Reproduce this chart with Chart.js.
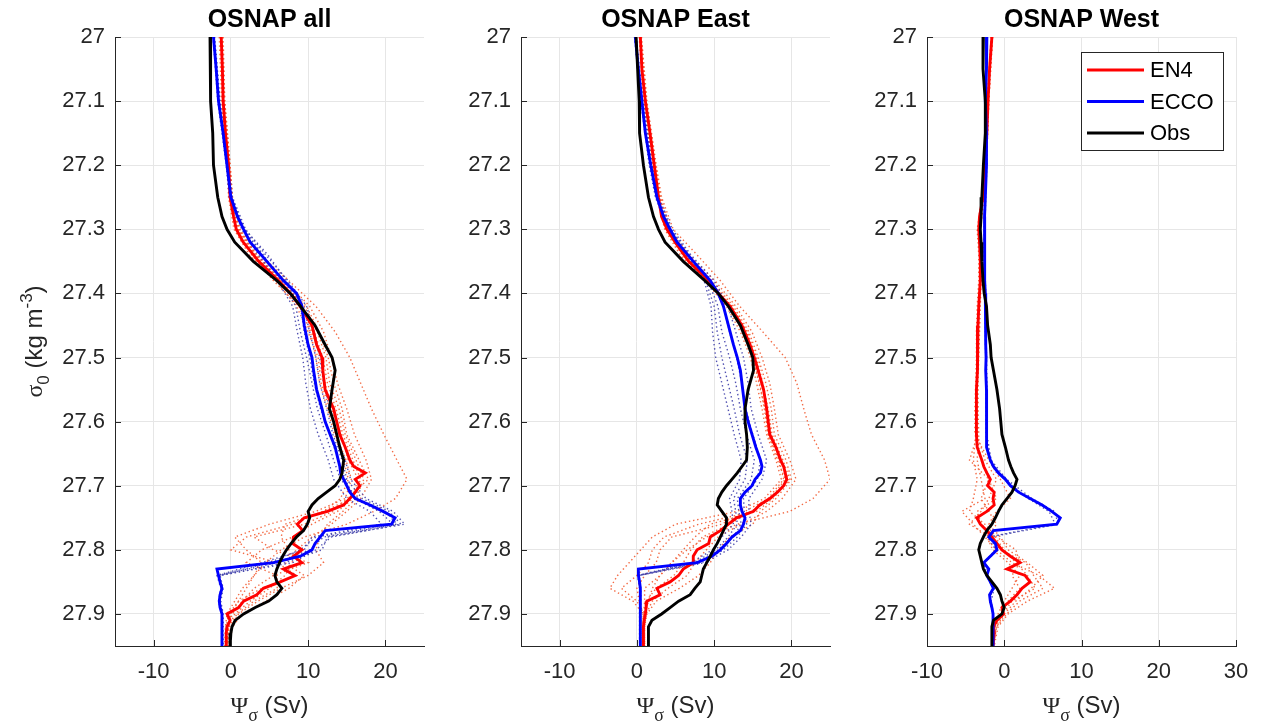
<!DOCTYPE html>
<html>
<head>
<meta charset="utf-8">
<title>OSNAP overturning in density space</title>
<script src="https://cdn.jsdelivr.net/npm/chart.js@4.4.1/dist/chart.umd.min.js"></script>
<style>
  body { margin: 0; background: #fff; }
  #fig { position: relative; width: 1264px; height: 726px; overflow: hidden; }
  #fig canvas { position: absolute; top: 0; }
</style>
</head>
<body>
<div id="fig">
  <canvas id="panelAll" width="440" height="726" style="left:0px"></canvas>
  <canvas id="panelEast" width="440" height="726" style="left:406px"></canvas>
  <canvas id="panelWest" width="452" height="726" style="left:812px"></canvas>
</div>
<script>
// density levels (sigma_0, kg m-3) for the mean profiles
const sigmaLevels = [27.00, 27.05, 27.10, 27.15, 27.20, 27.25, 27.28, 27.30, 27.32, 27.35,
  27.38, 27.40, 27.42, 27.45, 27.48, 27.50, 27.52, 27.55, 27.58, 27.60,
  27.62, 27.64, 27.66, 27.67, 27.68, 27.69, 27.70, 27.71, 27.72, 27.73,
  27.74, 27.75, 27.76, 27.77, 27.78, 27.79, 27.80, 27.81, 27.82, 27.83,
  27.84, 27.85, 27.86, 27.87, 27.88, 27.89, 27.90, 27.91, 27.92, 27.93,
  27.94, 27.95];

// coarser levels for the ensemble members (dotted)
const memberSigma = [27.00, 27.10, 27.20, 27.25, 27.30, 27.34, 27.38, 27.42, 27.46, 27.50,
  27.54, 27.58, 27.62, 27.66, 27.69, 27.72, 27.74, 27.76, 27.78, 27.80,
  27.82, 27.84, 27.86, 27.88, 27.90, 27.92, 27.95];

// OSNAP all (Sv)
const allObs = [-2.7, -2.65, -2.6, -2.35, -2.25, -1.7, -1.15, -0.5, 0.5, 2.9,
  5.95, 7.7, 9.0, 10.9, 12.2, 13.1, 13.5, 13.1, 12.75, 13.3,
  13.7, 14.1, 14.6, 14.5, 14.4, 14.1, 13.5, 12.4, 11.3, 10.5,
  10.0, 10.2, 9.9, 9.4, 8.5, 7.8, 7.2, 6.7, 6.3, 5.95,
  5.7, 5.95, 6.6, 5.95, 4.9, 3.15, 1.65, 0.55, 0.15, 0.0,
  -0.1, -0.1];
const allEcco = [-2.25, -1.9, -1.6, -1.0, -0.5, 0.0, 0.85, 1.65, 2.5, 4.65,
  6.8, 8.5, 9.2, 9.5, 10.0, 10.5, 10.7, 11.1, 11.8, 12.2,
  12.85, 13.5, 13.9, 14.1, 14.2, 14.6, 15.0, 15.4, 16.1, 18.0,
  19.7, 21.25, 20.8, 12.2, 11.55, 10.9, 10.5, 9.0, 5.5, -1.8,
  -1.6, -1.4, -1.15, -1.4, -1.5, -1.4, -1.15, -1.15, -1.15, -1.15,
  -1.15, -1.15];
const allEn4 = [-1.25, -1.1, -1.0, -0.7, -0.3, -0.1, 0.35, 0.7, 1.6, 3.6,
  6.15, 7.7, 9.0, 10.5, 11.1, 11.8, 11.9, 12.2, 13.3, 13.7,
  14.1, 14.8, 15.4, 15.9, 17.4, 16.1, 16.7, 16.1, 15.4, 14.6,
  12.5, 9.5, 8.6, 9.3, 8.1, 8.0, 9.2, 8.1, 9.2, 6.8,
  8.3, 6.4, 4.2, 3.35, 1.65, 1.0, -0.5, -0.1, -0.5, -0.6,
  -0.6, -0.6];
const allEn4Members = [
  [-1.0, -0.8, -0.1, 0.2, 1.2, 3.8, 7.5, 11.0, 13.5, 15.4, 16.8, 18.2, 19.8, 21.5, 22.8, 21.3, 18.5, 15.0, 9.5, 6.5, 4.5, 3.0, 2.0, 1.0, 0.0, -0.3, -0.4],
  [-1.5, -1.2, -0.5, -0.3, 0.4, 2.4, 5.8, 8.5, 10.0, 11.3, 11.7, 12.8, 13.6, 14.9, 15.6, 14.8, 11.0, 5.0, 0.5, 2.0, 4.0, 3.0, 1.5, 0.5, -0.5, -0.7, -0.8],
  [-1.1, -0.8, -0.1, 0.2, 1.1, 3.3, 6.6, 9.5, 11.2, 12.3, 12.8, 14.0, 14.8, 16.2, 17.2, 16.2, 14.5, 12.5, 11.5, 11.0, 12.0, 10.0, 6.5, 3.5, 1.0, 0.0, -0.3],
  [-1.3, -1.0, -0.3, 0.0, 0.8, 3.0, 6.3, 9.2, 10.5, 11.6, 12.2, 13.0, 14.3, 15.2, 16.5, 15.6, 12.0, 7.0, 6.5, 7.5, 8.0, 7.0, 5.0, 2.5, 0.5, -0.3, -0.5],
  [-1.2, -0.9, -0.2, 0.1, 1.0, 3.1, 6.0, 9.8, 11.4, 12.6, 13.3, 14.4, 15.0, 16.6, 17.8, 15.0, 13.2, 9.5, 3.0, 5.5, 10.0, 5.5, 3.0, 1.5, 0.2, -0.4, -0.5],
  [-1.35, -1.1, -0.4, -0.2, 0.6, 2.7, 5.5, 8.8, 10.3, 11.0, 11.5, 12.5, 13.4, 14.6, 15.2, 14.2, 12.0, 8.0, 2.0, 0.0, 6.0, 8.5, 4.0, 1.0, -0.3, -0.6, -0.7],
  [-1.15, -0.85, -0.15, 0.15, 1.0, 3.4, 7.0, 10.2, 12.0, 13.0, 13.8, 15.0, 16.0, 17.5, 18.2, 16.8, 15.0, 13.0, 10.5, 8.5, 7.0, 9.5, 7.5, 4.5, 1.5, 0.2, -0.2],
  [-1.25, -1.05, -0.25, 0.05, 0.9, 3.2, 6.5, 9.0, 10.8, 11.9, 12.5, 13.6, 14.5, 15.8, 16.8, 15.8, 13.8, 10.5, 8.0, 4.0, 2.0, 6.0, 6.0, 3.0, 0.8, -0.2, -0.4]
];
const allEccoMembers = [
  [-2.3, -1.7, -0.6, -0.2, 1.4, 3.6, 6.0, 8.0, 8.6, 9.3, 9.7, 10.3, 11.3, 12.6, 13.3, 15.0, 18.0, 19.5, 10.5, 9.5, 4.0, -1.8, -1.3, -1.6, -1.2, -1.2, -1.2],
  [-2.1, -1.4, -0.3, 0.2, 1.9, 4.5, 7.4, 9.8, 10.8, 11.5, 12.0, 12.8, 13.6, 14.8, 15.5, 17.5, 21.0, 22.5, 12.5, 11.8, 7.0, -1.4, -1.0, -1.3, -1.0, -1.0, -1.0],
  [-2.2, -1.6, -0.4, 0.0, 1.7, 4.2, 6.5, 8.4, 9.0, 9.8, 10.5, 11.2, 12.3, 13.3, 14.2, 16.5, 20.0, 21.5, 12.0, 10.2, 6.0, -1.6, -1.2, -1.4, -1.1, -1.1, -1.1],
  [-2.25, -1.5, -0.5, 0.1, 1.6, 4.0, 7.0, 9.0, 9.5, 10.2, 10.8, 11.6, 12.8, 13.9, 14.8, 16.0, 19.2, 21.0, 11.0, 9.0, 5.0, -1.7, -1.1, -1.5, -1.2, -1.2, -1.2],
  [-2.15, -1.45, -0.45, 0.05, 1.8, 4.8, 7.2, 9.4, 10.2, 11.0, 11.5, 12.4, 13.2, 14.4, 15.0, 17.0, 20.5, 22.0, 13.0, 11.0, 8.0, -1.5, -1.2, -1.4, -1.1, -1.1, -1.1]
];

// OSNAP East (Sv)
const eastObs = [-0.1, 0.1, 0.3, 0.35, 0.85, 1.5, 2.15, 2.8, 3.65, 6.0,
  8.8, 10.55, 11.85, 13.4, 14.4, 15.0, 15.1, 14.4, 14.0, 14.0,
  14.2, 14.3, 14.2, 13.6, 13.0, 12.3, 11.6, 11.0, 10.55, 10.4,
  11.0, 11.6, 11.6, 11.2, 10.8, 10.4, 9.9, 9.5, 9.05, 8.6,
  8.4, 8.2, 7.5, 6.9, 5.4, 4.3, 3.2, 1.95, 1.5, 1.5,
  1.5, 1.5];
const eastEcco = [-0.2, 0.2, 0.65, 1.1, 1.8, 2.6, 3.45, 4.3, 5.2, 7.3,
  9.5, 10.55, 11.2, 11.85, 12.5, 13.0, 13.4, 13.7, 14.0, 14.4,
  14.9, 15.4, 16.0, 16.2, 16.0, 15.3, 14.9, 14.0, 13.4, 13.4,
  13.6, 14.0, 13.8, 13.4, 12.3, 11.6, 10.8, 9.7, 7.8, 0.2,
  0.2, 0.35, 0.45, 0.45, 0.45, 0.45, 0.45, 0.45, 0.45, 0.45,
  0.45, 0.45];
const eastEn4 = [0.45, 0.65, 1.1, 1.7, 2.25, 2.8, 3.2, 3.9, 4.95, 6.7,
  9.3, 10.55, 12.05, 13.6, 14.65, 15.2, 15.7, 16.4, 16.8, 17.0,
  17.2, 18.0, 18.6, 19.0, 19.2, 19.4, 19.0, 18.2, 17.2, 15.9,
  15.1, 12.9, 11.85, 10.8, 9.5, 9.3, 7.8, 7.3, 7.3, 6.0,
  5.4, 4.3, 2.6, 3.0, 1.3, 1.2, 1.1, 0.95, 0.85, 0.85,
  0.85, 0.85];
const eastEn4Members = [
  [0.6, 1.3, 2.5, 3.2, 4.7, 7.8, 10.8, 13.3, 16.3, 19.2, 20.7, 21.6, 22.6, 24.3, 25.0, 22.8, 19.8, 13.0, 9.0, 6.5, 4.5, 3.0, 2.0, 1.5, 1.0, 0.9, 0.9],
  [0.3, 0.9, 2.0, 2.6, 3.6, 5.6, 8.8, 11.6, 13.4, 14.7, 15.5, 16.2, 16.8, 18.0, 18.7, 16.5, 13.0, 5.0, 2.0, 0.5, -1.0, -2.5, -3.5, -0.5, 0.8, 0.7, 0.7],
  [0.5, 1.2, 2.4, 3.0, 4.1, 6.4, 9.7, 12.5, 14.5, 15.7, 16.7, 17.4, 17.8, 19.3, 20.0, 18.0, 16.0, 15.0, 12.0, 10.5, 9.5, 8.0, 5.5, 2.5, 1.3, 1.0, 1.0],
  [0.4, 1.0, 2.2, 2.7, 3.8, 6.1, 9.1, 12.2, 14.2, 15.5, 16.3, 17.0, 17.5, 18.9, 19.8, 17.6, 15.5, 9.5, 7.5, 6.0, 4.5, 3.0, 1.0, 1.0, 0.9, 0.85, 0.85],
  [0.45, 1.1, 2.3, 2.9, 4.0, 6.3, 9.5, 12.0, 13.8, 15.0, 15.8, 16.6, 17.0, 18.4, 19.0, 17.0, 14.0, 11.0, 4.5, 3.0, 2.5, 1.0, 0.0, 0.3, 0.8, 0.8, 0.8],
  [0.35, 0.95, 2.1, 2.65, 3.7, 5.9, 9.0, 11.9, 13.7, 15.0, 15.9, 16.5, 17.0, 18.2, 19.2, 17.3, 15.0, 8.0, 3.5, 2.0, 1.5, 0.0, -2.0, 0.0, 0.9, 0.8, 0.8],
  [0.55, 1.25, 2.45, 3.1, 4.3, 6.8, 10.1, 12.8, 14.9, 16.2, 17.2, 17.8, 18.3, 19.8, 20.6, 18.8, 16.8, 13.5, 10.5, 9.0, 7.5, 6.5, 4.0, 2.0, 1.2, 1.0, 1.0],
  [0.4, 1.05, 2.25, 2.85, 3.9, 6.2, 9.3, 12.3, 14.3, 15.4, 16.2, 16.9, 17.4, 18.7, 19.6, 17.4, 14.8, 12.0, 8.5, 7.0, 6.0, 4.8, 2.5, 1.2, 0.9, 0.85, 0.85]
];
const eastEccoMembers = [
  [-0.3, 0.5, 1.6, 2.4, 4.0, 6.2, 8.7, 9.6, 9.8, 10.2, 11.0, 11.8, 12.6, 13.5, 13.3, 12.0, 12.3, 12.5, 11.0, 9.8, 7.0, 0.1, 0.35, 0.35, 0.35, 0.35, 0.35],
  [-0.1, 0.8, 2.0, 2.8, 4.6, 7.0, 10.0, 11.8, 12.8, 13.8, 14.4, 14.8, 15.7, 16.8, 16.2, 14.5, 14.5, 14.8, 13.5, 11.8, 8.8, 0.3, 0.5, 0.5, 0.5, 0.5, 0.5],
  [-0.2, 0.6, 1.8, 2.6, 4.2, 6.6, 9.2, 10.5, 11.0, 12.0, 12.8, 13.4, 14.2, 15.2, 14.8, 13.0, 13.2, 13.5, 12.5, 10.5, 8.0, 0.2, 0.4, 0.4, 0.4, 0.4, 0.4],
  [-0.25, 0.55, 1.7, 2.5, 4.1, 6.4, 8.9, 10.0, 10.4, 11.0, 11.8, 12.6, 13.3, 14.3, 14.0, 12.5, 12.8, 13.0, 11.8, 10.2, 7.5, 0.15, 0.4, 0.4, 0.4, 0.4, 0.4],
  [-0.15, 0.7, 1.9, 2.7, 4.4, 6.8, 9.6, 11.2, 12.0, 12.9, 13.6, 14.1, 15.0, 16.0, 15.6, 13.8, 13.9, 14.2, 13.0, 11.2, 8.4, 0.25, 0.45, 0.45, 0.45, 0.45, 0.45]
];

// OSNAP West (Sv)
const westObs = [-2.7, -2.75, -2.45, -2.45, -2.7, -2.9, -3.0, -3.1, -3.0, -2.9,
  -2.75, -2.6, -2.3, -2.15, -1.8, -1.7, -1.4, -0.95, -0.6, -0.45,
  -0.3, 0.15, 0.55, 0.85, 1.2, 1.65, 1.4, 1.0, 0.35, -0.3,
  -0.75, -1.15, -1.6, -2.25, -2.7, -3.1, -3.3, -3.1, -2.9, -2.7,
  -2.25, -1.6, -0.95, -0.5, -0.3, 0.0, -0.3, -1.4, -1.6, -1.6,
  -1.6, -1.6];
const westEcco = [-2.25, -2.3, -2.45, -2.3, -2.3, -2.45, -2.55, -2.55, -2.55, -2.55,
  -2.5, -2.45, -2.4, -2.4, -2.4, -2.35, -2.4, -2.3, -2.3, -2.3,
  -2.3, -2.25, -1.8, -1.4, -0.75, 0.15, 0.8, 1.85, 3.35, 4.9,
  6.15, 7.25, 6.8, -1.4, -2.0, -1.15, -0.95, -1.8, -2.65, -2.0,
  -2.25, -1.8, -1.4, -1.9, -1.8, -1.6, -1.45, -1.45, -1.45, -1.45,
  -1.45, -1.45];
const westEn4 = [-1.6, -1.9, -2.1, -2.25, -2.45, -2.75, -3.2, -3.3, -3.2, -3.1,
  -3.1, -3.2, -3.3, -3.4, -3.45, -3.45, -3.5, -3.6, -3.6, -3.6,
  -3.6, -3.5, -2.9, -2.65, -2.25, -1.8, -2.15, -1.3, -1.45, -1.3,
  -2.25, -3.55, -3.1, -2.25, -1.6, -0.95, -0.3, 0.8, 2.05, 0.35,
  2.7, 3.35, 2.3, 1.65, 0.8, -0.3, -0.1, -0.95, -1.4, -1.3,
  -1.4, -1.45];
const westEn4Members = [
  [-1.5, -2.0, -2.3, -2.6, -3.1, -3.0, -3.0, -3.1, -3.2, -3.3, -3.4, -3.4, -3.3, -3.5, -3.0, -2.5, -5.5, -4.0, -2.5, -1.0, 1.0, 4.5, 6.5, 3.0, 0.5, -0.8, -1.3],
  [-1.7, -2.2, -2.6, -2.9, -3.5, -3.3, -3.3, -3.5, -3.6, -3.6, -3.7, -3.8, -3.8, -2.0, -0.5, 0.8, -1.0, -2.0, -0.5, 0.5, 3.0, 5.0, 3.5, 1.5, 0.0, -1.0, -1.4],
  [-1.55, -2.05, -2.5, -2.8, -3.2, -3.2, -3.2, -3.4, -3.5, -3.5, -3.6, -3.7, -3.7, -4.0, -3.5, -4.0, -4.5, -2.5, -1.0, 1.5, 2.0, 1.0, 2.0, 0.5, -0.5, -1.2, -1.45],
  [-1.65, -2.15, -2.4, -2.7, -3.4, -3.1, -3.1, -3.2, -3.3, -3.4, -3.5, -3.5, -3.5, -2.5, -1.0, -2.0, -3.0, -4.5, -1.8, -0.5, 2.8, 3.8, 5.0, 2.0, 0.3, -1.0, -1.4],
  [-1.6, -2.1, -2.45, -2.75, -3.3, -3.2, -3.15, -3.3, -3.4, -3.45, -3.5, -3.6, -3.6, -3.0, -2.0, -1.0, -3.5, -3.0, -1.2, 0.0, 1.5, 3.0, 4.0, 1.0, -0.2, -1.1, -1.45],
  [-1.55, -2.0, -2.35, -2.65, -3.2, -3.05, -3.05, -3.2, -3.3, -3.35, -3.45, -3.45, -3.45, -4.5, -2.0, -3.0, -2.0, -1.0, -2.2, -1.5, 0.5, 2.0, 1.0, 0.0, -0.8, -1.2, -1.4]
];
const westEccoMembers = [
  [-2.3, -2.5, -2.35, -2.5, -2.6, -2.6, -2.55, -2.45, -2.45, -2.4, -2.35, -2.35, -2.35, -1.9, 0.0, 3.1, 5.8, 6.6, -2.1, -1.1, -2.7, -2.3, -1.5, -1.9, -1.5, -1.5, -1.5],
  [-2.2, -2.4, -2.25, -2.4, -2.5, -2.5, -2.45, -2.35, -2.35, -2.3, -2.25, -2.25, -2.25, -1.7, 0.3, 3.6, 6.5, 7.0, -1.9, -0.8, -2.6, -2.2, -1.3, -1.7, -1.4, -1.4, -1.4]
];

// axes
const yTicks = [27.0, 27.1, 27.2, 27.3, 27.4, 27.5, 27.6, 27.7, 27.8, 27.9];
const yTickLabels = ['27', '27.1', '27.2', '27.3', '27.4', '27.5', '27.6', '27.7', '27.8', '27.9'];
const xTicksEastAll = [-10, 0, 10, 20];
const xTicksWest = [-10, 0, 10, 20, 30];
const seriesNames = ['EN4', 'ECCO', 'Obs'];
const seriesColors = ['#ff0000', '#0000ff', '#000000'];

const SANS = "'Liberation Sans', Arial, Helvetica, sans-serif";
const SERIF = "'Liberation Serif', 'Times New Roman', serif";

function toPoints(levels, values) {
  return values.map((v, i) => ({ x: v, y: levels[i] }));
}

// draw a row of text pieces (sub/superscripts) centred on x
function drawRuns(ctx, runs, cx, baseY) {
  let total = 0;
  runs.forEach(r => { ctx.font = r.font; r.w = ctx.measureText(r.text).width; total += r.w; });
  let x = cx - total / 2;
  ctx.textAlign = 'left';
  ctx.textBaseline = 'alphabetic';
  runs.forEach(r => {
    ctx.font = r.font;
    ctx.fillText(r.text, x, baseY + (r.dy || 0));
    x += r.w;
  });
}

const decorations = {
  id: 'decorations',
  afterDraw(chart, args, opts) {
    const { ctx, chartArea: a } = chart;
    const xs = chart.scales.x, ys = chart.scales.y;
    ctx.save();

    // inward tick marks, matlab style
    ctx.strokeStyle = '#262626';
    ctx.lineWidth = 1;
    ctx.beginPath();
    xs.ticks.forEach(t => {
      const px = Math.round(xs.getPixelForValue(t.value)) + 0.5;
      ctx.moveTo(px, a.bottom);
      ctx.lineTo(px, a.bottom - 6);
    });
    ys.ticks.forEach(t => {
      const py = Math.round(ys.getPixelForValue(t.value)) + 0.5;
      ctx.moveTo(a.left, py);
      ctx.lineTo(a.left + 6, py);
    });
    ctx.stroke();

    ctx.fillStyle = '#000';
    const cx = (a.left + a.right) / 2;

    // title
    ctx.font = 'bold 25px ' + SANS;
    ctx.textAlign = 'center';
    ctx.textBaseline = 'alphabetic';
    ctx.fillText(opts.title, cx, 27);

    // x label: Psi_sigma (Sv)
    ctx.fillStyle = '#262626';
    drawRuns(ctx, [
      { text: 'Ψ', font: '24px ' + SERIF },
      { text: 'σ', font: '18px ' + SERIF, dy: 8 },
      { text: ' (Sv)', font: '24px ' + SANS }
    ], cx, 713);

    // y label: sigma_0 (kg m^-3)
    if (opts.yTitle) {
      ctx.save();
      ctx.translate(42, (a.top + a.bottom) / 2);
      ctx.rotate(-Math.PI / 2);
      drawRuns(ctx, [
        { text: 'σ', font: '24px ' + SERIF },
        { text: '0', font: '17px ' + SANS, dy: 7 },
        { text: ' (kg m', font: '24px ' + SANS },
        { text: '-3', font: '17px ' + SANS, dy: -10 },
        { text: ')', font: '24px ' + SANS }
      ], 0, 0);
      ctx.restore();
    }

    // legend box
    if (opts.legend) {
      const w = 142, h = 98;
      const lx = a.right - 13 - w, ly = a.top + 15;
      ctx.fillStyle = '#fff';
      ctx.fillRect(lx, ly, w, h);
      ctx.strokeStyle = '#262626';
      ctx.lineWidth = 1;
      ctx.strokeRect(Math.round(lx) + 0.5, Math.round(ly) + 0.5, w, h);
      ctx.font = '22px ' + SANS;
      ctx.textAlign = 'left';
      ctx.textBaseline = 'middle';
      seriesNames.forEach((name, i) => {
        const ry = ly + 18 + i * 31.5;
        ctx.strokeStyle = seriesColors[i];
        ctx.lineWidth = 2.8;
        ctx.beginPath();
        ctx.moveTo(lx + 6, ry);
        ctx.lineTo(lx + 63, ry);
        ctx.stroke();
        ctx.fillStyle = '#000';
        ctx.fillText(name, lx + 69, ry + 1);
      });
    }
    ctx.restore();
  }
};

function makePanel(canvasId, p) {
  const datasets = [];
  p.en4Members.forEach((m, i) => datasets.push({
    label: 'EN4 member ' + (i + 1), data: toPoints(memberSigma, m),
    borderColor: 'rgba(242,98,58,0.95)', borderWidth: 1.4, borderDash: [1.4, 2.8], order: 4
  }));
  p.eccoMembers.forEach((m, i) => datasets.push({
    label: 'ECCO member ' + (i + 1), data: toPoints(memberSigma, m),
    borderColor: 'rgba(62,62,170,0.9)', borderWidth: 1.4, borderDash: [1.4, 2.8], order: 3
  }));
  datasets.push({ label: 'EN4', data: toPoints(sigmaLevels, p.en4), borderColor: seriesColors[0], borderWidth: 2.9, order: 2 });
  datasets.push({ label: 'ECCO', data: toPoints(sigmaLevels, p.ecco), borderColor: seriesColors[1], borderWidth: 2.9, order: 1 });
  datasets.push({ label: 'Obs', data: toPoints(sigmaLevels, p.obs), borderColor: seriesColors[2], borderWidth: 2.9, order: 0 });
  datasets.forEach(d => { d.showLine = true; d.pointRadius = 0; d.fill = false; d.tension = 0; });

  return new Chart(document.getElementById(canvasId), {
    type: 'scatter',
    data: { datasets: datasets },
    options: {
      responsive: false,
      animation: false,
      events: [],
      layout: { padding: { left: 0, right: p.padRight, top: 37, bottom: 0 } },
      plugins: {
        legend: { display: false },
        tooltip: { enabled: false },
        decorations: { title: p.title, yTitle: p.yTitle, legend: p.legend }
      },
      scales: {
        x: {
          type: 'linear', position: 'bottom', min: p.xMin, max: p.xMax,
          afterBuildTicks: s => { s.ticks = p.xTicks.map(v => ({ value: v })); },
          afterFit: s => { s.height = 80; },
          ticks: { color: '#262626', font: { family: SANS, size: 22 }, padding: 13, maxRotation: 0 },
          grid: { color: '#e6e6e6', drawTicks: false },
          border: { color: '#262626', width: 1 }
        },
        y: {
          type: 'linear', position: 'left', reverse: true, min: 27, max: 27.95,
          afterBuildTicks: s => { s.ticks = yTicks.map(v => ({ value: v })); },
          afterFit: s => { s.width = 115; },
          ticks: {
            color: '#262626', font: { family: SANS, size: 22 }, padding: 10,
            callback: (v, i) => yTickLabels[i]
          },
          grid: { color: '#e6e6e6', drawTicks: false },
          border: { color: '#262626', width: 1 }
        }
      }
    },
    plugins: [decorations]
  });
}

makePanel('panelAll', {
  title: 'OSNAP all', obs: allObs, ecco: allEcco, en4: allEn4,
  en4Members: allEn4Members, eccoMembers: allEccoMembers,
  xMin: -15, xMax: 25, xTicks: xTicksEastAll, padRight: 16, yTitle: true, legend: false
});
makePanel('panelEast', {
  title: 'OSNAP East', obs: eastObs, ecco: eastEcco, en4: eastEn4,
  en4Members: eastEn4Members, eccoMembers: eastEccoMembers,
  xMin: -15, xMax: 25, xTicks: xTicksEastAll, padRight: 16, yTitle: false, legend: false
});
makePanel('panelWest', {
  title: 'OSNAP West', obs: westObs, ecco: westEcco, en4: westEn4,
  en4Members: westEn4Members, eccoMembers: westEccoMembers,
  xMin: -10, xMax: 30, xTicks: xTicksWest, padRight: 28, yTitle: false, legend: true
});
</script>
</body>
</html>
